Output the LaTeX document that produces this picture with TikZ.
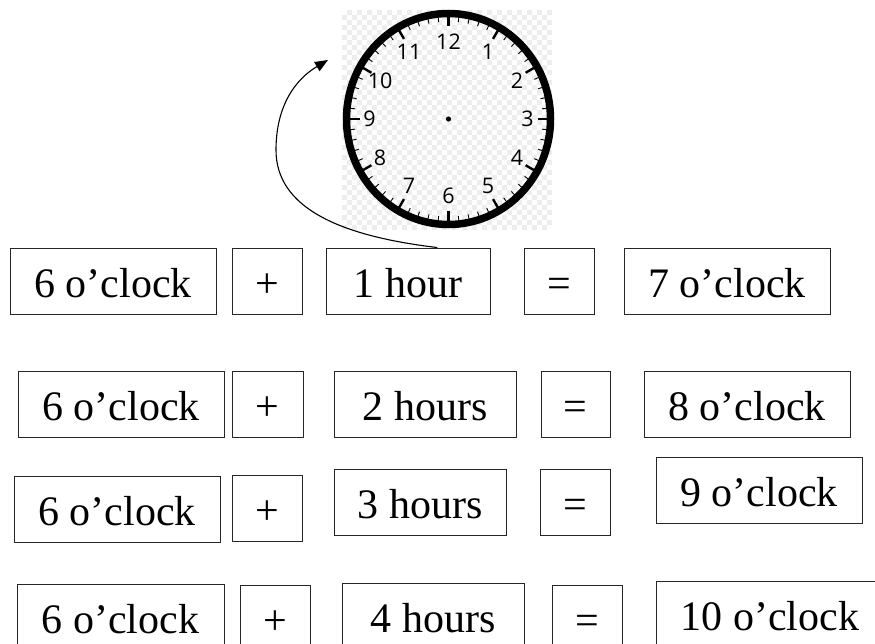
\documentclass[tikz,border=0pt]{standalone}
\usepackage{fontspec}
\setmainfont{Liberation Serif}
\newfontfamily\clockfont{Open Sans}
\usetikzlibrary{arrows.meta,calc}
\definecolor{checkgrey}{HTML}{EDEDED}
\tikzset{
  eqbox/.style={draw=black!85, line width=0.9pt, minimum height=66pt, inner sep=0pt,
    text height=33pt, text depth=0pt, font=\fontsize{42}{50}\selectfont},
  clocknum/.style={font=\clockfont\fontsize{21.5}{25}\selectfont, inner sep=0pt},
  jump/.style={line width=1.1pt, -{Triangle[length=13pt,width=10.5pt]}}
}
\newcommand{\eqnode}[5]{% name, x1, x2, y1, text
  \node[eqbox, minimum width={(#3)-(#2)}] (#1) at ({((#2)+(#3))/2},{(#4)+33}) {#5};}
\begin{document}
\begin{tikzpicture}[x=1pt,y=-1pt]
\path[use as bounding box] (0,0) rectangle (875,644);
\clip (0,0) rectangle (875,644);
\fill[white] (0,0) rectangle (875,644);
% checker background of clock picture
\fill[white] (342,10) rectangle (553,230);
\foreach \i in {0,...,41}{
  \foreach \j in {0,...,43}{
    \pgfmathtruncatemacro\cpar{mod(\i+\j,2)}
    \ifnum\cpar=1
      \fill[checkgrey] ({342+5*\i},{10+5*\j}) rectangle ({min(553,347+5*\i)},{min(230,15+5*\j)});
    \fi
  }
}
% clock
\draw[line width=7.5pt] (448.5,119) ellipse [x radius=102, y radius=105.5];
\foreach \k in {0,...,59}{
  \pgfmathtruncatemacro\hr{mod(\k,5)}
  \ifnum\hr=0
    \draw[line width=2.4pt] ({448.5+99*cos(6*\k)},{119+102.5*sin(6*\k)}) -- ({448.5+89*cos(6*\k)},{119+92.5*sin(6*\k)});
  \else
    \draw[line width=0.9pt] ({448.5+99*cos(6*\k)},{119+102.5*sin(6*\k)}) -- ({448.5+94*cos(6*\k)},{119+97.5*sin(6*\k)});
  \fi
}
\fill (448.5,119) circle (2.6);
\foreach \i in {1,...,12}{
  \pgfmathsetmacro\ang{90-30*\i}
  \node[clocknum] (num\i) at ({448.5+79*cos(\ang)},{119-77*sin(\ang)}) {\i};
}
% equation rows
\eqnode{a1}{10}{216}{248}{6 o’clock}
\eqnode{p1}{232}{302}{248}{+}
\eqnode{b1}{326}{490}{248}{1 hour}
\eqnode{e1}{524}{594}{248}{=}
\eqnode{r1}{624}{830}{248}{7 o’clock}
\eqnode{a2}{18}{224}{371}{6 o’clock}
\eqnode{p2}{232}{303}{371}{+}
\eqnode{b2}{334}{516}{371}{2 hours}
\eqnode{e2}{541}{610}{371}{=}
\eqnode{r2}{644}{850}{371}{8 o’clock}
\eqnode{a3}{14}{220}{476}{6 o’clock}
\eqnode{p3}{232}{302}{475}{+}
\eqnode{b3}{334}{506}{469}{3 hours}
\eqnode{e3}{540}{610}{469}{=}
\eqnode{r3}{656}{862}{457}{9 o’clock}
\eqnode{a4}{17}{224}{584}{6 o’clock}
\eqnode{p4}{240}{310}{585}{+}
\eqnode{b4}{342}{524}{583}{4 hours}
\eqnode{e4}{552}{622}{585}{=}
\eqnode{r4}{656}{884}{581}{10 o’clock}
% curved arrow from the 1 hour box to the clock
\coordinate (arrowstart) at ($(b1.north west)!0.678!(b1.north east)$);
\coordinate (arrowtip) at (328,60);
\draw[jump] (arrowstart) .. controls (340,236) and (276,208) .. (276,150)
  .. controls (276,105) and (296,79) .. (arrowtip);
\end{tikzpicture}
\end{document}
